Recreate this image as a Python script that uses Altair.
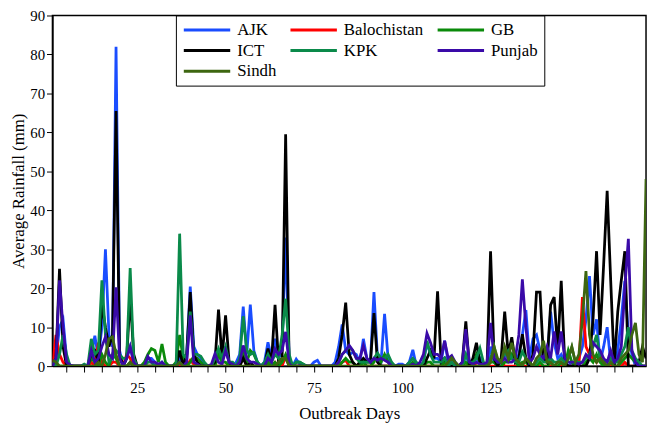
import altair as alt
import pandas as pd

days = list(range(1, 170))

AJK = [0, 2, 10, 12, 2, 0, 0, 0, 0, 0,
       0, 3, 7.8, 2, 10, 30, 8, 5, 82, 4,
       0, 2, 5, 1, 0, 0, 0, 2, 2, 1,
       0, 1, 0, 0, 0, 0, 2, 0, 3, 20.4,
       5, 3, 2, 0, 0, 0, 1, 3, 1, 5,
       1, 0, 1, 3, 15.3, 3, 15.8, 4, 1, 0,
       1, 6.1, 2, 7, 2, 4, 33, 2, 0, 1.8,
       0.5, 0, 0, 0, 1, 1.5, 0, 0, 0, 0,
       1, 5, 10.7, 4, 3, 3.5, 3, 1, 7, 2,
       1, 19, 2, 1, 13.4, 2, 0, 0, 0.5, 0.5,
       0, 1, 4.2, 0, 0, 1, 6, 3, 2, 2,
       1, 6.5, 1, 1, 0, 0, 0, 3, 0, 0,
       1, 2, 0, 0, 5, 1, 0, 1, 3, 2,
       2, 1, 3, 8, 14.4, 2, 7, 8, 4, 2,
       1, 14, 6, 2, 3, 1, 0, 1, 0, 2,
       5, 12, 23.1, 8, 12, 1, 5, 10, 1, 0,
       4, 12, 21.9, 8, 3, 0, 0, 0, 0]

Balochistan = [0, 8, 3, 1, 0, 0, 0, 0, 0, 0,
               0, 1, 0, 6, 1, 0, 0, 1, 1, 0,
               0, 3, 2, 0, 0, 0, 0, 0, 0, 0,
               0, 0, 0, 0, 0, 0, 0, 0, 0, 1.5,
               0.5, 0, 0, 0, 0, 0, 0, 0, 0, 0,
               0, 0, 0, 0, 2.5, 0, 0, 0, 0, 0,
               0, 1, 0, 1, 0, 0, 2.5, 0, 0, 0,
               0, 0, 0, 0, 0, 0, 0, 0, 0, 0,
               0, 0, 1, 1.5, 0, 0, 0, 0, 0, 0,
               0, 0, 0, 0, 0, 0, 0, 0, 0, 0,
               0, 0, 0, 0, 0, 0, 0, 0, 0, 0,
               0, 0, 0, 0, 0, 0, 0, 0, 0, 1,
               0, 0, 0, 0, 0, 0, 0, 1.5, 0, 0,
               0, 0, 0, 0, 0, 0, 0, 0, 0, 0,
               0, 0, 0, 0, 0, 0, 0, 0, 0, 0,
               17.7, 5, 3, 2, 1, 3, 0, 0, 0, 0,
               0, 0, 1, 0, 0, 0, 0, 0, 0]

GB = [1, 0.5, 0, 0, 0, 0, 0, 0, 0, 0,
      0, 2, 1, 0, 3, 1, 0, 3, 2, 0,
      0, 0, 1, 0, 0, 0, 1, 3, 4.5, 4,
      1, 5.7, 1, 0, 0, 1, 8, 2, 0, 1,
      2.5, 2, 1, 0, 0, 0, 0, 3, 1, 1,
      0, 0, 0, 1, 4, 1, 4, 3, 1, 0,
      0, 1, 0, 1, 0, 1, 3, 1, 0, 1,
      1, 0.5, 0, 0, 0, 0, 0, 0, 0, 0,
      0, 0, 1, 2, 1, 1, 0, 0, 1, 0,
      0, 1, 3, 1, 3, 1, 0, 0, 0, 0,
      0, 0, 1, 0, 0, 0, 1, 1, 0, 0,
      0, 1, 0, 0, 0, 0, 0, 1, 0, 0,
      3, 1, 0, 0, 1, 1, 0, 0, 1, 1,
      3, 1, 0, 1, 1, 0, 0, 0, 1, 0,
      0, 1, 0, 0, 1, 0, 4, 1, 0, 0,
      0, 1, 2, 1, 3, 1, 0, 0, 1, 0,
      0, 1, 2, 3, 2, 1, 0, 0, 0]

ICT = [0, 2, 25, 5, 0, 0, 0, 0, 0, 0,
       0, 3.5, 4, 1, 16, 10, 5, 8, 65.5, 3,
       0, 2, 18, 3, 0, 0, 0, 0, 0, 0,
       0, 0, 0, 0, 0, 0, 4, 0, 3, 19,
       3, 1, 0, 0, 0, 0, 1, 14.5, 2, 13,
       1, 0, 0, 0, 2, 0, 1, 0, 0, 0,
       0, 4.5, 1, 15.7, 1, 2, 59.5, 0, 0, 0,
       0, 0, 0, 0, 0, 0, 0, 0, 0, 0,
       0, 2, 8, 16.3, 3, 1, 0, 1, 2, 1,
       1, 13.6, 1, 0, 0, 0, 0, 0, 0, 0,
       0, 0, 0, 0, 0, 0, 2, 4, 2, 19.2,
       1, 2, 0, 0, 0, 0, 1, 11.5, 0, 2,
       6, 1, 0, 0, 29.5, 2, 0, 2, 14, 3,
       7.4, 1, 2, 8.2, 2, 0, 3, 19, 19, 2,
       1, 15.7, 17.7, 4, 21.9, 1, 0, 0, 0, 0,
       0, 0, 2, 12, 29.5, 8, 26, 45, 22, 0,
       14, 22, 29.5, 0, 0, 0, 1, 5, 2]

KPK = [1, 0, 3, 8, 3, 0, 0, 0, 0, 0.5,
       0, 7, 3, 4, 22, 8, 1, 2, 4, 3,
       2, 2, 25.2, 2, 0, 0, 0, 1, 1, 0,
       0, 1, 0, 0, 0, 0, 34, 3, 2, 14,
       3, 3, 2.5, 1, 0, 0, 2, 4.5, 2, 5,
       1, 1, 0, 2, 12.8, 4, 3, 3.5, 1, 0,
       1, 3, 1, 3, 2, 8, 17.3, 3, 0, 1,
       1, 0.5, 0, 0, 0, 0, 0, 0, 0, 0,
       0, 1, 3, 4, 5, 4, 2, 1, 1, 1,
       1, 2, 3.3, 2, 2, 3, 1, 0, 0, 0,
       0, 1, 2, 1, 0, 1, 6.5, 3, 1, 1,
       1, 2, 0, 1, 0, 0, 0, 3, 1, 1,
       2, 4.6, 1, 0, 2, 5, 1, 1, 3, 4,
       2, 1, 1, 3.7, 2, 1, 0, 1, 2, 1,
       1, 2, 1, 1, 2, 1, 2, 4.8, 1, 1,
       1, 2, 3, 5, 8, 2, 1, 1, 2, 1,
       1, 3, 5, 10, 4, 2, 1, 0, 0]

Punjab = [0, 2, 22, 10, 1, 0.3, 0, 0, 0, 0,
          0, 4, 1, 2, 5, 7.5, 3, 2, 20.2, 2,
          0, 2, 5, 1, 0, 0, 0, 2.5, 1, 1,
          0.5, 1, 0, 0, 0, 0, 1, 0, 1, 13,
          1, 0.5, 0, 0, 0, 0.5, 3.2, 1, 0.5, 4,
          1, 0.5, 0, 1, 5.3, 2, 1, 1, 0.5, 0,
          0, 2, 1, 4.4, 3, 4, 8.8, 0.5, 0, 0,
          0, 0, 0, 0, 0, 0, 0, 0, 0, 0,
          0, 1, 3, 4, 5.3, 4, 2, 2, 5.3, 2,
          1, 2, 1.5, 2, 1.5, 1, 0, 0, 0, 0,
          0, 0, 0.5, 0, 1, 3, 8.4, 6, 3, 3,
          2, 6.5, 2, 2.7, 1, 0, 1, 9.5, 1, 0.5,
          1, 0.5, 0.5, 1, 11.1, 2, 1, 1, 2, 1,
          1, 2, 8, 22.3, 10, 1, 2, 5, 3, 2,
          5, 2, 8.9, 3, 8.9, 2, 1, 1, 1, 0.5,
          1, 3, 2, 6, 5, 4, 2, 1, 4, 1,
          2, 5, 20, 32.7, 4, 1, 0, 0, 0]

Sindh = [1.5, 1, 0, 0, 0, 0, 0, 0, 0, 0,
         0, 0, 0, 1, 0, 3, 7, 7.5, 3, 0,
         0, 0, 1, 0, 0, 0, 0, 0, 0, 0,
         0, 0, 0, 0, 0, 0, 1, 0, 0, 0,
         0, 0, 0, 0, 0, 0, 0, 0, 0, 0,
         0, 0, 0, 0, 0, 0, 0, 0, 0, 0,
         0, 0, 0, 0, 1, 2, 2, 0, 0, 0,
         0, 0, 0, 0, 0, 0, 0, 0, 0, 0,
         0, 0, 0, 0, 0, 0, 0, 0, 0, 0,
         0, 0, 0, 0, 0, 0, 0, 0, 0, 0,
         0, 0, 0, 0, 0, 0, 0, 0, 0, 0,
         0, 0, 1, 2.1, 1, 0, 0, 0, 0, 0,
         0, 0, 0, 0, 1, 5, 2, 1, 5, 2,
         6, 2, 1, 0, 2, 1, 0, 2, 3, 6.5,
         1, 1, 0, 1, 1, 0, 2, 5, 1, 3,
         12, 24.4, 8, 3, 1, 2, 1, 0, 1, 0,
         0, 2, 3, 4, 8, 11.1, 3, 1, 48]

names = ["AJK", "Balochistan", "GB", "ICT", "KPK", "Punjab", "Sindh"]
colors = ["#1a4dff", "#ff0000", "#0a8a0a", "#000000", "#0a8a4a", "#3a0aa8", "#3d6610"]
series = [AJK, Balochistan, GB, ICT, KPK, Punjab, Sindh]

rows = []
for name, vals in zip(names, series):
    for d, v in zip(days, vals):
        rows.append({"day": d, "rain": v, "region": name})
df = pd.DataFrame(rows)

FONT = "Liberation Serif"

chart = alt.Chart(df).mark_line(strokeWidth=2.8, clip=True).encode(
    x=alt.X("day:Q",
            scale=alt.Scale(domain=[1, 169], nice=False, zero=False),
            axis=alt.Axis(title="Outbreak Days", values=list(range(5, 170, 5)),
                          labelExpr="datum.value % 25 == 0 ? datum.label : ''",
                          grid=False, tickSize=6, labelPadding=9, titlePadding=10,
                          labelFontSize=15, titleFontSize=17)),
    y=alt.Y("rain:Q",
            scale=alt.Scale(domain=[0, 90], nice=False),
            axis=alt.Axis(title="Average Rainfall (mm)", values=list(range(0, 91, 10)),
                          grid=False, tickSize=6, labelPadding=2, titlePadding=2,
                          labelFontSize=15, titleFontSize=17)),
    color=alt.Color("region:N",
                    scale=alt.Scale(domain=names, range=colors),
                    legend=alt.Legend(title=None, orient="none", legendX=125, legendY=0,
                                      direction="horizontal",
                                      columns=3, symbolType="M-1.3,0H8.1", symbolSize=100,
                                      symbolStrokeWidth=3, labelFont=FONT, labelFontSize=17,
                                      labelColor="black", labelOffset=39, rowPadding=3,
                                      columnPadding=8, padding=6, strokeColor="black",
                                      fillColor="white")),
).properties(
    width=601, height=355,
    autosize=alt.AutoSizeParams(type="none"),
    padding={"left": 45, "right": 2, "top": 5, "bottom": 55},
).configure_view(
    stroke="black", strokeWidth=1.5
).configure_axis(
    labelFont=FONT, titleFont=FONT, labelColor="black", titleColor="black",
    titleFontWeight="normal", domainColor="black", domainWidth=1.5,
    tickColor="black", tickWidth=1
)

chart.save("out.html", embed_options={"renderer": "svg", "actions": False})
